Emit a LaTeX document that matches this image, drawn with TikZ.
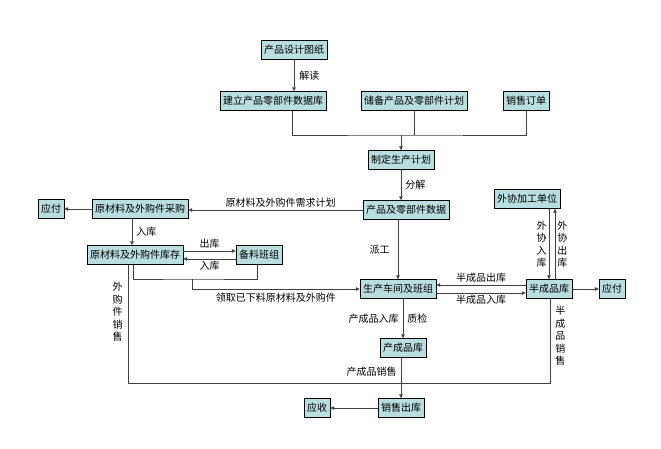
\documentclass[tikz,border=0pt]{standalone}
\usepackage{fontspec}
\setmainfont{Noto Sans CJK SC}
\usetikzlibrary{arrows.meta}
\definecolor{boxfill}{RGB}{184,222,222}
\begin{document}
\begin{tikzpicture}[x=1pt,y=-1pt,
  box/.style={draw=black,fill=boxfill,inner xsep=3pt,inner ysep=0pt,minimum height=19pt,font=\fontsize{10}{12}\selectfont},
  lbl/.style={font=\fontsize{10}{11}\selectfont,inner sep=2pt},
  la/.style={lbl,anchor=south},
  lb/.style={lbl,anchor=north},
  ll/.style={lbl,anchor=east},
  lr/.style={lbl,anchor=west},
  vl/.style={align=center,font=\fontsize{10}{12.5}\selectfont,inner sep=2pt},
  ln/.style={draw=black!75,line width=0.6pt},
  ar/.style={ln,-{Triangle[length=4pt,width=3.5pt]}}]
\useasboundingbox (0,0) rectangle (661,448);
\node[box] (design) at (294,50) {产品设计图纸};
\node[box] (db) at (273,101) {建立产品零部件数据库};
\node[box] (stock) at (414,101) {储备产品及零部件计划};
\node[box] (order) at (526,101) {销售订单};
\node[box] (plan) at (401,160) {制定生产计划};
\node[box] (data) at (406,210) {产品及零部件数据};
\node[box] (wx) at (527,199) {外协加工单位};
\node[box] (ws) at (398,289) {生产车间及班组};
\node[box] (semi) at (549,289) {半成品库};
\node[box] (payR) at (612,289) {应付};
\node[box] (fin) at (403,348) {产成品库};
\node[box] (sale) at (401,408) {销售出库};
\node[box] (recv) at (317,408) {应收};
\node[box] (payL) at (51,209) {应付};
\node[box] (buy) at (140,209) {原材料及外购件采购};
\node[box] (inv) at (135,255) {原材料及外购件库存};
\node[box] (prep) at (259,255) {备料班组};
\coordinate (j) at (401,135);
\coordinate (s1) at (128,383);
\coordinate (b1) at (192,279);
% top
\draw[ar] (design.south) -- node[lr,xshift=3pt]{解读} (design.south|-db.north);
\draw[ln] (db.south-|292,0) |- (j) -| (order.south);
\draw[ln] (stock.south) -- (stock.south|-j);
\draw[ar] (j) -- (plan.north);
\draw[ar] (plan.south) -- node[lr,xshift=2pt]{分解} (plan.south|-data.north);
\draw[ar] (data.west) -- node[la,pos=0.47]{原材料及外购件需求计划} (data.west-|buy.east);
\draw[ar] (buy.west) -- (payL.east);
\draw[ar] (buy.south-|132,0) -- node[lr,xshift=2pt]{入库} (inv.north-|132,0);
\draw[ar] ([yshift=4pt]inv.east) -- node[la]{出库} ([yshift=4pt]prep.west);
\draw[ar] ([yshift=-4pt]prep.west) -- node[lb]{入库} ([yshift=-4pt]inv.east);
\draw[ln] (inv.south-|133,0) |- (b1) -| (prep.south-|257,0);
\draw[ar] (b1) |- node[lb,pos=0.75,yshift=-2pt]{领取已下料原材料及外购件} (ws.west);
\draw[ar] (data.south-|ws.north) -- node[ll,xshift=-6pt]{派工} (ws.north);
\draw[ar] (ws.south-|403,0) -- node[ll,xshift=-2pt]{产成品入库} node[lr,xshift=2pt]{质检} (fin.north);
\draw[ar] ([yshift=4pt]semi.west) -- node[la]{半成品出库} ([yshift=4pt]ws.east);
\draw[ar] ([yshift=-4pt]ws.east) -- node[lb]{半成品入库} ([yshift=-4pt]semi.west);
\draw[ar] (semi.east) -- (payR.west);
\draw[ar] (wx.south-|549,0) -- node[vl,anchor=east]{外\\协\\入\\库} (semi.north-|549,0);
\draw[ar] (semi.north-|555,0) -- node[vl,anchor=west]{外\\协\\出\\库} (wx.south-|555,0);
\draw[ln] (inv.south-|128,0) -- node[vl,anchor=east,pos=0.4,xshift=-3pt]{外\\购\\件\\销\\售} (s1) -| node[vl,anchor=west,pos=0.78,xshift=3pt]{半\\成\\品\\销\\售} (semi.south-|550,0);
\draw[ar] (fin.south-|401,0) -- node[ll,pos=0.35,xshift=-2pt]{产成品销售} (sale.north);
\draw[ar] (sale.west) -- (recv.east);
\end{tikzpicture}
\end{document}
